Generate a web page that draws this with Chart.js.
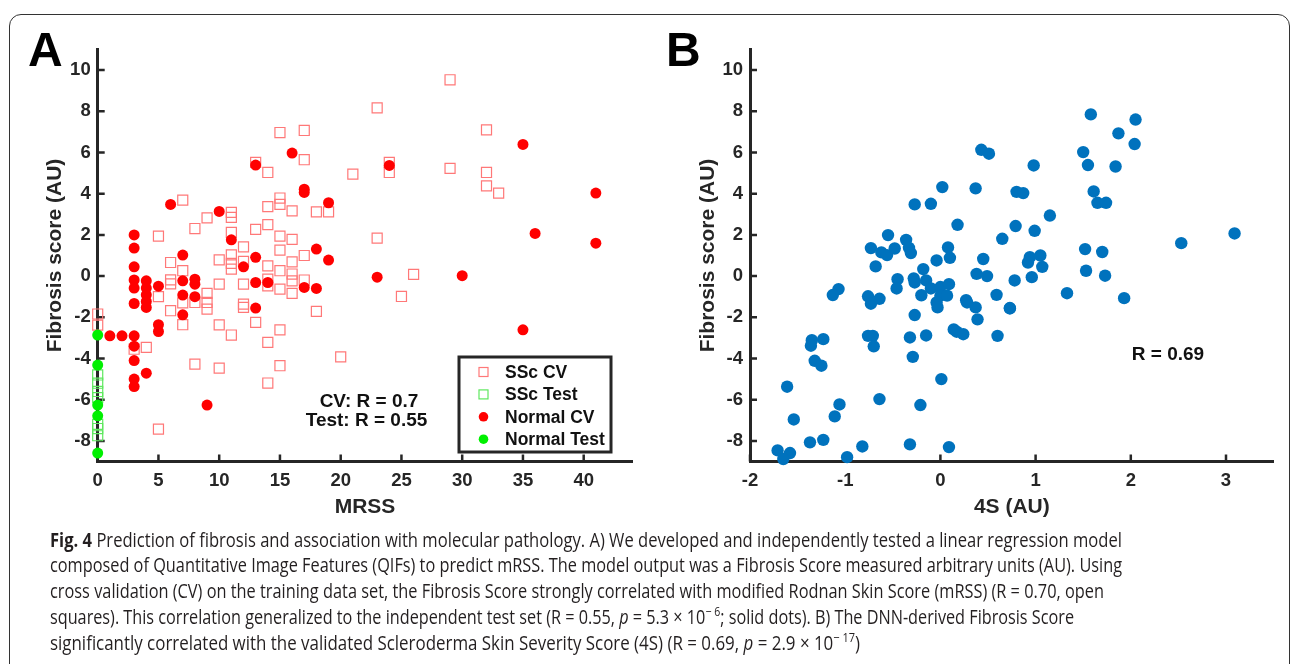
<!DOCTYPE html>
<html>
<head>
<meta charset="utf-8">
<script src="https://cdn.jsdelivr.net/npm/chart.js@4.4.0/dist/chart.umd.min.js"></script>
<style>
  body { margin: 0; background: #fff; width: 1293px; height: 664px; overflow: hidden; position: relative; }
  .frame { position: absolute; left: 9px; top: 14px; width: 1281px; height: 720px; border: 1.5px solid #333; border-radius: 12px; box-sizing: border-box; }
  canvas { position: absolute; top: 0; }
  #chartA { left: 0; }
  #chartB { left: 645px; }
  .panel { position: absolute; top: 26px; font: bold 48px "Liberation Sans", Arial, sans-serif; line-height: 48px; color: #000; }
  .cap { position: absolute; left: 50px; white-space: nowrap; font-family: "Open Sans", sans-serif; font-size: 20px; line-height: 26px; color: #231f20; transform-origin: 0 50%; }
  .cap sup { font-size: 13px; line-height: 0; }
</style>
</head>
<body>
<div class="frame"></div>
<canvas id="chartA" width="645" height="530"></canvas>
<canvas id="chartB" width="648" height="530"></canvas>
<div class="panel" style="left:28px">A</div>
<div class="panel" style="left:666px">B</div>

<div class="cap" style="top:527px"><b>Fig. 4</b> Prediction of fibrosis and association with molecular pathology. A) We developed and independently tested a linear regression model</div>
<div class="cap" style="top:552px">composed of Quantitative Image Features (QIFs) to predict mRSS. The model output was a Fibrosis Score measured arbitrary units (AU). Using</div>
<div class="cap" style="top:578px">cross validation (CV) on the training data set, the Fibrosis Score strongly correlated with modified Rodnan Skin Score (mRSS) (R = 0.70, open</div>
<div class="cap" style="top:604px">squares). This correlation generalized to the independent test set (R = 0.55, <i>p</i> = 5.3 × 10<sup>− 6</sup>; solid dots). B) The DNN-derived Fibrosis Score</div>
<div class="cap" style="top:630px">significantly correlated with the validated Scleroderma Skin Severity Score (4S) (R = 0.69, <i>p</i> = 2.9 × 10<sup>− 17</sup>)</div>

<script>
// Panel A: MRSS vs fibrosis score, [mrss, score]
const sscCv = [
  [0,-1.84],[0,-2.38],[3,-3.55],[4,-3.46],
  [5,1.94],[5,-1.0],[5,-7.43],
  [6,0.66],[6,-0.18],[6,-0.38],[6,-1.68],
  [7,3.69],[7,0.26],[7,-1.3],[7,-2.36],
  [8,2.31],[8,-1.28],[8,-4.27],
  [9,2.83],[9,-0.84],[9,-1.28],[9,-1.6],
  [10,0.79],[10,-0.39],[10,-2.37],[10,-4.47],
  [11,3.09],[11,2.85],[11,2.12],[11,1.03],[11,0.62],[11,0.34],[11,-2.86],
  [12,1.42],[12,0.71],[12,-0.39],[12,-1.36],[12,-1.52],
  [13,5.52],[13,2.27],[13,-2.25],
  [14,5.03],[14,3.37],[14,2.5],[14,0.5],[14,-0.15],[14,-0.47],[14,-3.22],[14,-5.19],
  [15,6.97],[15,3.79],[15,3.48],[15,1.94],[15,1.26],[15,0.26],[15,-0.63],[15,-2.61],[15,-4.35],
  [16,3.17],[16,1.78],[16,0.69],[16,0.1],[16,-0.23],[16,-0.84],
  [17,7.07],[17,5.65],[17,1.0],[17,-0.19],
  [18,3.12],[18,-1.71],[19,3.12],[20,-3.92],[21,4.95],
  [23,8.17],[23,1.84],[24,5.52],[24,5.03],[25,-0.99],[26,0.08],
  [29,9.53],[29,5.23],[32,7.1],[32,5.03],[32,4.38],[33,4.03]
];
const sscTest = [[0,-4.8],[0,-5.2],[0,-5.6],[0,-5.9],[0,-7.2],[0,-7.4],[0,-7.75]];
const normalCv = [
  [1,-2.9],[2,-2.9],
  [3,2.0],[3,1.36],[3,0.45],[3,-0.19],[3,-0.58],[3,-1.33],[3,-2.9],[3,-3.4],[3,-4.1],[3,-5.0],[3,-5.36],
  [4,-0.23],[4,-0.58],[4,-0.91],[4,-1.23],[4,-1.52],[4,-4.71],
  [5,-0.49],[5,-2.36],[5,-2.69],[6,3.48],
  [7,1.02],[7,-0.23],[7,-0.92],[7,-1.88],
  [8,-0.15],[8,-0.39],[8,-1.0],
  [9,-6.26],[10,3.14],[11,1.76],[12,0.45],
  [13,5.39],[13,0.91],[13,-0.31],[13,-1.55],
  [14,-0.31],[16,5.97],[17,4.22],[17,4.06],[17,-0.55],
  [18,1.31],[18,-0.6],[19,3.56],[19,0.78],
  [23,-0.05],[24,5.37],[30,0.02],[35,6.39],[35,-2.61],[36,2.07],[41,4.03],[41,1.6]
];
const normalTest = [[0,-2.86],[0,-4.32],[0,-6.26],[0,-6.78],[0,-8.59]];

// Panel B: 4S vs fibrosis score, [4s, score]
const fourS = [
  [0.43,6.13],[0.51,5.94],[0.02,4.32],[0.37,4.26],[-0.27,3.48],[-0.1,3.51],[0.18,2.49],
  [-0.55,1.99],[-0.36,1.76],[-0.73,1.36],[-0.62,1.15],[-0.56,1.02],[-0.48,1.34],[-0.33,1.37],
  [-0.31,1.12],[0.08,1.39],[0.1,0.89],[-0.04,0.76],[0.65,1.81],[0.45,0.83],[-0.68,0.47],
  [-0.18,0.34],[0.38,0.11],[0.49,0.0],[-0.45,-0.15],[-0.46,-0.6],[-0.28,-0.11],[-0.27,-0.31],
  [-0.15,-0.21],[-0.1,-0.6],[0.0,-0.53],[0.09,-0.39],[-1.07,-0.63],[-1.13,-0.92],[-0.76,-0.98],
  [-0.64,-1.1],[-0.2,-0.93],[0.0,-0.95],[0.07,-0.95],[0.59,-0.91],[0.27,-1.17],[-0.73,-1.34],
  [-0.04,-1.28],[-0.03,-1.52],[-0.27,-1.89],[0.28,-1.28],[0.37,-1.52],[0.39,-2.1],[0.73,-1.57],
  [0.14,-2.59],[0.17,-2.7],[0.24,-2.82],[0.6,-2.9],[-0.32,-2.98],[-0.15,-2.88],[-0.76,-2.9],
  [-0.71,-2.9],[-0.7,-3.41],[-1.35,-3.11],[-1.36,-3.38],[-1.23,-3.06],[-1.32,-4.11],[-1.25,-4.35],
  [-0.29,-3.92],[0.01,-5.0],[-1.61,-5.37],[-0.64,-5.97],[-0.21,-6.26],[-1.06,-6.23],[-1.11,-6.81],
  [-1.54,-6.96],[-1.37,-8.07],[-1.23,-7.95],[-0.82,-8.27],[-0.32,-8.17],[0.09,-8.3],[-1.71,-8.46],
  [-1.58,-8.59],[-1.65,-8.88],[-0.98,-8.79],
  [1.58,7.85],[2.05,7.6],[1.87,6.93],[2.04,6.41],[1.5,6.02],[1.55,5.39],[1.84,5.32],[0.98,5.37],
  [0.8,4.09],[0.87,4.03],[1.61,4.11],[1.65,3.56],[1.74,3.56],[1.15,2.94],[0.79,2.43],[0.99,2.2],
  [2.53,1.6],[3.09,2.07],[1.52,1.31],[1.7,1.17],[1.05,1.0],[0.94,0.92],[0.92,0.66],[1.07,0.45],
  [1.53,0.26],[1.73,0.02],[0.78,-0.21],[0.96,-0.05],[1.33,-0.83],[1.93,-1.07],[0.73,-1.55]
];

const scoreTicks = [-8, -6, -4, -2, 0, 2, 4, 6, 8, 10];
const mrssTicks = [0, 5, 10, 15, 20, 25, 30, 35, 40];
const fourSTicks = [-2, -1, 0, 1, 2, 3];

const INK = '#262626';
const FONT = '"Liberation Sans", Arial, sans-serif';
const pts = arr => arr.map(([x, y]) => ({ x, y }));

function axis(title, min, max, ticks, isX, size) {
  return {
    type: 'linear', min, max,
    afterBuildTicks: s => { s.ticks = ticks.map(v => ({ value: v })); },
    afterFit: s => { if (isX) s.height = size; else s.width = size; },
    grid: { display: false, drawTicks: false },
    border: { display: true, width: 3, color: INK },
    ticks: { color: INK, font: { family: FONT, size: 18.5, weight: 'bold' }, padding: isX ? 8 : 7, maxRotation: 0, autoSkip: false },
    title: { display: true, text: title, color: INK, font: { family: FONT, size: 21, weight: 'bold' }, padding: 0 }
  };
}

// MATLAB style ticks pointing into the plot
const innerTicks = {
  id: 'innerTicks',
  beforeDatasetsDraw(chart) {
    const { ctx, chartArea: a, scales: { x, y } } = chart;
    ctx.save();
    ctx.strokeStyle = INK;
    ctx.lineWidth = 2.5;
    ctx.beginPath();
    x.ticks.forEach(t => { const p = x.getPixelForValue(t.value); ctx.moveTo(p, a.bottom); ctx.lineTo(p, a.bottom - 7); });
    y.ticks.forEach(t => { const p = y.getPixelForValue(t.value); ctx.moveTo(a.left, p); ctx.lineTo(a.left + 7, p); });
    ctx.stroke();
    ctx.restore();
  }
};

const notes = {
  id: 'notes',
  afterDraw(chart, args, opts) {
    const ctx = chart.ctx;
    ctx.save();
    ctx.fillStyle = '#111';
    ctx.font = 'bold 19px ' + FONT;
    ctx.textAlign = 'center';
    ctx.textBaseline = 'middle';
    (opts.items || []).forEach(n => ctx.fillText(n.text, n.x, n.y));
    ctx.restore();
  }
};

const boxLegend = {
  id: 'boxLegend',
  afterDraw(chart, args, opts) {
    if (!opts.show) return;
    const ctx = chart.ctx;
    const bx = 459, by = 357, bw = 152, bh = 95;
    ctx.save();
    ctx.fillStyle = '#fff';
    ctx.fillRect(bx, by, bw, bh);
    ctx.strokeStyle = INK;
    ctx.lineWidth = 3;
    ctx.strokeRect(bx, by, bw, bh);
    ctx.font = 'bold 17.5px ' + FONT;
    ctx.textBaseline = 'middle';
    chart.data.datasets.forEach((d, i) => {
      const y = 372 + i * 22.4;
      if (d.pointStyle === 'rect') {
        ctx.strokeStyle = d.pointBorderColor;
        ctx.lineWidth = 1.2;
        ctx.strokeRect(479, y - 4.5, 9, 9);
      } else {
        ctx.fillStyle = d.pointBackgroundColor;
        ctx.beginPath();
        ctx.arc(483.5, y, 4.8, 0, Math.PI * 2);
        ctx.fill();
      }
      ctx.fillStyle = '#111';
      ctx.fillText(d.label, 505, y + 1);
    });
    ctx.restore();
  }
};

const square = (label, data, color) => ({
  label, data: pts(data), pointStyle: 'rect', pointRadius: 7.1, pointHoverRadius: 7.1,
  pointBackgroundColor: 'rgba(0,0,0,0)', pointBorderColor: color, pointBorderWidth: 1.2, order: 2, clip: false
});
const dot = (label, data, color, r) => ({
  label, data: pts(data), pointStyle: 'circle', pointRadius: r, pointHoverRadius: r,
  pointBackgroundColor: color, pointBorderColor: color, pointBorderWidth: 0, order: 1, clip: false
});

const common = {
  responsive: false, animation: false, events: [],
  plugins: { legend: { display: false }, tooltip: { enabled: false } }
};

new Chart(document.getElementById('chartA'), {
  type: 'scatter',
  data: {
    datasets: [
      square('SSc CV', sscCv, '#ff7878'),
      square('SSc Test', sscTest, '#5fe85f'),
      dot('Normal CV', normalCv, '#ff0000', 5.5),
      dot('Normal Test', normalTest, '#00f000', 5.5)
    ]
  },
  options: {
    ...common,
    layout: { padding: { left: 43, top: 49.5, right: 12.7, bottom: 10 } },
    scales: {
      x: axis('MRSS', 0, 44, mrssTicks, true, 58.5),
      y: axis('Fibrosis score (AU)', -9, 11, scoreTicks, false, 54.7)
    },
    plugins: {
      ...common.plugins,
      boxLegend: { show: true },
      notes: { items: [{ text: 'CV: R = 0.7', x: 369, y: 402 }, { text: 'Test: R = 0.55', x: 366.5, y: 421 }] }
    }
  },
  plugins: [innerTicks, notes, boxLegend]
});

new Chart(document.getElementById('chartB'), {
  type: 'scatter',
  data: { datasets: [dot('4S', fourS, '#0072BD', 6.2)] },
  options: {
    ...common,
    layout: { padding: { left: 51, top: 49.5, right: 19.4, bottom: 10 } },
    scales: {
      x: axis('4S (AU)', -2, 3.5, fourSTicks, true, 58.5),
      y: axis('Fibrosis score (AU)', -9, 11, scoreTicks, false, 54)
    },
    plugins: {
      ...common.plugins,
      notes: { items: [{ text: 'R = 0.69', x: 523, y: 355 }] }
    }
  },
  plugins: [innerTicks, notes]
});

// squeeze each caption line to the width it has in the figure
const capEnds = [1122, 1122, 1104, 1074, 860];
document.querySelectorAll('.cap').forEach((el, i) => {
  const w = el.getBoundingClientRect().width;
  el.style.transform = 'scaleX(' + ((capEnds[i] - 50) / w) + ')';
});
</script>
</body>
</html>
